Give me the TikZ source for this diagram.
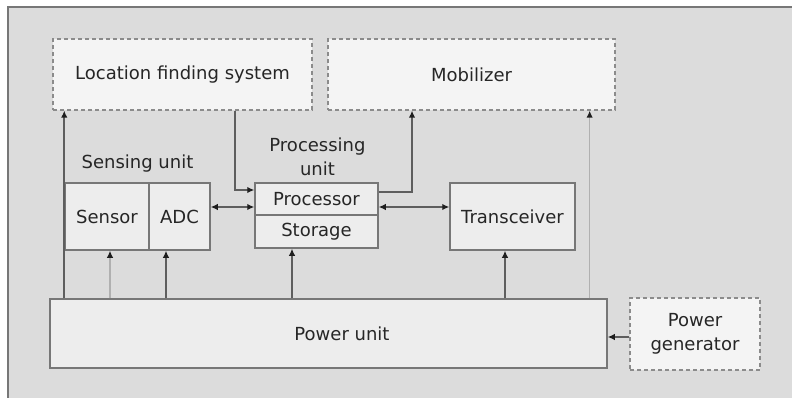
\documentclass[tikz,border=0pt]{standalone}
\usepackage{fontspec}
\setmainfont{DejaVu Sans}
\usetikzlibrary{arrows.meta,calc}
\definecolor{panel}{HTML}{DCDCDC}
\definecolor{boxfill}{HTML}{EDEDED}
\definecolor{edge}{HTML}{777777}
\definecolor{wire}{HTML}{5E5E5E}
\definecolor{faintwire}{HTML}{B0B0B0}
\definecolor{ink}{HTML}{262626}
\definecolor{tip}{HTML}{1E1E1E}
\tikzset{
  every node/.style={font=\fontsize{18}{24}\selectfont, text=ink, inner sep=0pt, align=center},
  block/.style={draw=edge, line width=1.5pt, fill=boxfill, rectangle},
  extblock/.style={draw=edge!85, line width=1.3pt, dash pattern=on 4pt off 3pt, fill=boxfill!60!white, rectangle},
  tiphead/.tip={Latex[length=7pt,width=6.5pt,color=tip]},
  arr/.style={draw=wire, line width=1.6pt, -tiphead},
  darr/.style={draw=wire, line width=1.6pt, tiphead-tiphead},
  farr/.style={draw=faintwire, line width=1.4pt, -tiphead},
}
\begin{document}
\begin{tikzpicture}[x=1pt,y=-1pt]
\useasboundingbox (0,0) rectangle (792,398);
% outer panel
\fill[white] (0,0) rectangle (792,398);
\fill[panel] (8,7) rectangle (792,398);
\draw[edge, line width=1.6pt] (8,398) -- (8,7) -- (792,7);

% external (dashed) blocks
\node[extblock, minimum width=259pt, minimum height=71pt] (loc) at (182.5,74.5) {Location finding system};
\node[extblock, minimum width=287pt, minimum height=71pt] (mob) at (471.5,74.5) {Mobilizer};
\node[extblock, minimum width=130pt, minimum height=72pt] (gen) at (695,334) {Power\\generator};

% sensing unit
\node (senslabel) at (137.5,164) {Sensing unit};
\node[block, minimum width=84pt, minimum height=67pt] (sensor) at (107,216.5) {Sensor};
\node[block, minimum width=61pt, minimum height=67pt] (adc) at (179.5,216.5) {ADC};

% processing unit
\node (proclabel) at (317.5,157) {Processing\\unit};
\node[block, minimum width=123pt, minimum height=32pt] (proc) at (316.5,199) {Processor};
\node[block, minimum width=123pt, minimum height=33pt] (stor) at (316.5,231.5) {Storage};

% transceiver and power
\node[block, minimum width=125pt, minimum height=67pt] (trans) at (512.5,216.5) {Transceiver};
\node[block, minimum width=557pt, minimum height=69pt] (power) at (328.5,333.5) {};
\node (powerlabel) at (342,333.5) {Power unit};

% power distribution
\draw[arr] (power.north -| sensor.west) -- (loc.south -| sensor.west);
\draw[farr] ([xshift=3pt]sensor.south |- power.north) -- ([xshift=3pt]sensor.south);
\draw[arr] ([xshift=-13.5pt]adc.south |- power.north) -- ([xshift=-13.5pt]adc.south);
\draw[arr] ([xshift=-24.5pt]stor.south |- power.north) -- ([xshift=-24.5pt]stor.south);
\draw[arr] ([xshift=-7.5pt]trans.south |- power.north) -- ([xshift=-7.5pt]trans.south);
\draw[farr] ([xshift=-26pt]mob.south east |- power.north) -- ([xshift=-26pt]mob.south east);

% data paths
\draw[arr] ([xshift=52.5pt]loc.south) |- ([yshift=9pt]proc.west);
\draw[arr] ([yshift=7pt]proc.east) -| ([xshift=-59.5pt]mob.south);
\draw[darr] ([yshift=9.5pt]adc.east) -- ([yshift=9.5pt]adc.east -| proc.west);
\draw[darr] ([yshift=9.5pt]trans.west -| proc.east) -- ([yshift=9.5pt]trans.west);
\draw[arr] ([yshift=-3pt]gen.west) -- ([yshift=-3pt]gen.west -| power.east);
\end{tikzpicture}
\end{document}
